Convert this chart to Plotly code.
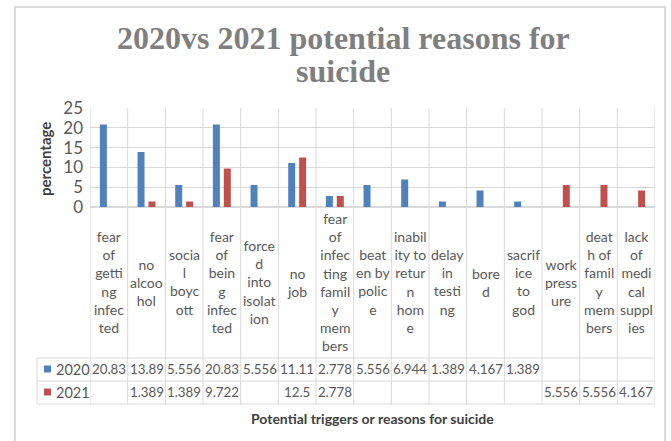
import plotly.graph_objects as go

categories = [
    "fear of getting infected", "no alcoohol", "social boycott", "fear of being infected",
    "forced into isolation", "no job", "fear of infecting family members", "beaten by police",
    "inability to return home", "delay in testing", "bored", "sacrifice to god",
    "work pressure", "death of family members", "lack of medical supplies",
]
wrapped_labels = [
    "fear<br>of<br>getti<br>ng<br>infec<br>ted",
    "no<br>alcoo<br>hol",
    "socia<br>l<br>boyc<br>ott",
    "fear<br>of<br>bein<br>g<br>infec<br>ted",
    "force<br>d<br>into<br>isolat<br>ion",
    "no<br>job",
    "fear<br>of<br>infec<br>ting<br>famil<br>y<br>mem<br>bers",
    "beat<br>en by<br>polic<br>e",
    "inabil<br>ity to<br>retur<br>n<br>hom<br>e",
    "delay<br>in<br>testi<br>ng",
    "bore<br>d",
    "sacrif<br>ice<br>to<br>god",
    "work<br>press<br>ure",
    "deat<br>h of<br>famil<br>y<br>mem<br>bers",
    "lack<br>of<br>medi<br>cal<br>suppl<br>ies",
]
series_names = ["2020", "2021"]
values_2020 = [20.83, 13.89, 5.556, 20.83, 5.556, 11.11, 2.778, 5.556, 6.944, 1.389, 4.167, 1.389, None, None, None]
values_2021 = [None, 1.389, 1.389, 9.722, None, 12.5, 2.778, None, None, None, None, None, 5.556, 5.556, 4.167]
y_ticks = [0, 5, 10, 15, 20, 25]
title_lines = ["2020vs 2021 potential reasons for", "suicide"]

colors = ["#4F81BD", "#C0504D"]
W, H = 671, 441
L, R, T, B = 90, 655, 108, 207
FONT = "Lato, Carlito, Calibri, sans-serif"
TXT = "#595959"
GRID = "#d9d9d9"

def px_x(px):
    return (px - L) / (R - L)

def px_y(py):
    return (B - py) / (B - T)

fig = go.Figure()
for name, vals, c in zip(series_names, [values_2020, values_2021], colors):
    fig.add_trace(go.Bar(x=categories, y=vals, name=name, marker=dict(color=c, line=dict(width=0))))

shapes = []
annotations = []
n = len(categories)

# outer chart border
shapes.append(dict(type="rect", xref="paper", yref="paper", x0=px_x(15), x1=px_x(665),
                   y0=px_y(446), y1=px_y(7), line=dict(color="#d0d0d0", width=1.5)))
# vertical table/grid lines
for i in range(n + 1):
    shapes.append(dict(type="line", xref="x", yref="paper", x0=i - 0.5, x1=i - 0.5,
                       y0=1, y1=px_y(404), line=dict(color=GRID, width=1)))
# horizontal table lines
for py in [358, 381, 404]:
    shapes.append(dict(type="line", xref="paper", yref="paper", x0=px_x(37), x1=1,
                       y0=px_y(py), y1=px_y(py), line=dict(color=GRID, width=1)))
shapes.append(dict(type="line", xref="paper", yref="paper", x0=px_x(37), x1=px_x(37),
                   y0=px_y(358), y1=px_y(404), line=dict(color=GRID, width=1)))

# category labels
for i, lab in enumerate(wrapped_labels):
    annotations.append(dict(x=i, xref="x", y=px_y(282), yref="paper", text=lab, showarrow=False,
                            xanchor="center", yanchor="middle",
                            font=dict(family=FONT, size=14, color=TXT)))
# table values and legend keys
for vals, c, name, py in zip([values_2020, values_2021], colors, series_names, [369, 392]):
    shapes.append(dict(type="rect", xref="paper", yref="paper", x0=px_x(44), x1=px_x(51),
                       y0=px_y(py + 3.5), y1=px_y(py - 3.5), fillcolor=c, line=dict(width=0)))
    annotations.append(dict(x=px_x(54), xref="paper", y=px_y(py), yref="paper", text=name,
                            showarrow=False, xanchor="left", yanchor="middle",
                            font=dict(family=FONT, size=14.5, color=TXT)))
    for i, v in enumerate(vals):
        if v is None:
            continue
        annotations.append(dict(x=i, xref="x", y=px_y(py), yref="paper", text=str(v),
                                showarrow=False, xanchor="center", yanchor="middle",
                                font=dict(family=FONT, size=13.3, color=TXT)))

# title (two lines placed separately to control spacing)
for line, py in zip(title_lines, [38, 71]):
    annotations.append(dict(x=px_x(343), xref="paper", y=px_y(py), yref="paper",
                            text="<b>" + line + "</b>",
                            showarrow=False, xanchor="center", yanchor="middle",
                            font=dict(family="Liberation Serif, serif", size=32, color="#7f7f7f")))
# axis titles
annotations.append(dict(x=0.5, xref="paper", y=px_y(418), yref="paper",
                        text="<b>Potential triggers or reasons for suicide</b>",
                        showarrow=False, xanchor="center", yanchor="middle",
                        font=dict(family=FONT, size=14, color="#404040")))
annotations.append(dict(x=px_x(45), xref="paper", y=px_y(159), yref="paper",
                        text="<b>percentage</b>", textangle=-90,
                        showarrow=False, xanchor="center", yanchor="middle",
                        font=dict(family=FONT, size=15, color="#404040")))

fig.update_layout(
    width=W, height=H,
    margin=dict(l=L, r=W - R, t=T, b=H - B, pad=0),
    paper_bgcolor="white", plot_bgcolor="white",
    showlegend=False,
    barmode="group", bargap=0.42, bargroupgap=0.36,
    shapes=shapes, annotations=annotations,
    xaxis=dict(type="category", showticklabels=False, showgrid=False, zeroline=False,
               showline=False, ticks="", range=[-0.5, n - 0.5]),
    yaxis=dict(range=[0, 25], tickvals=y_ticks, showgrid=True, gridcolor=GRID, gridwidth=1,
               zeroline=True, zerolinecolor=GRID, showline=False, ticks="",
               tickfont=dict(family=FONT, size=17, color=TXT), ticklabelstandoff=6),
)

fig.write_html("out.html")
